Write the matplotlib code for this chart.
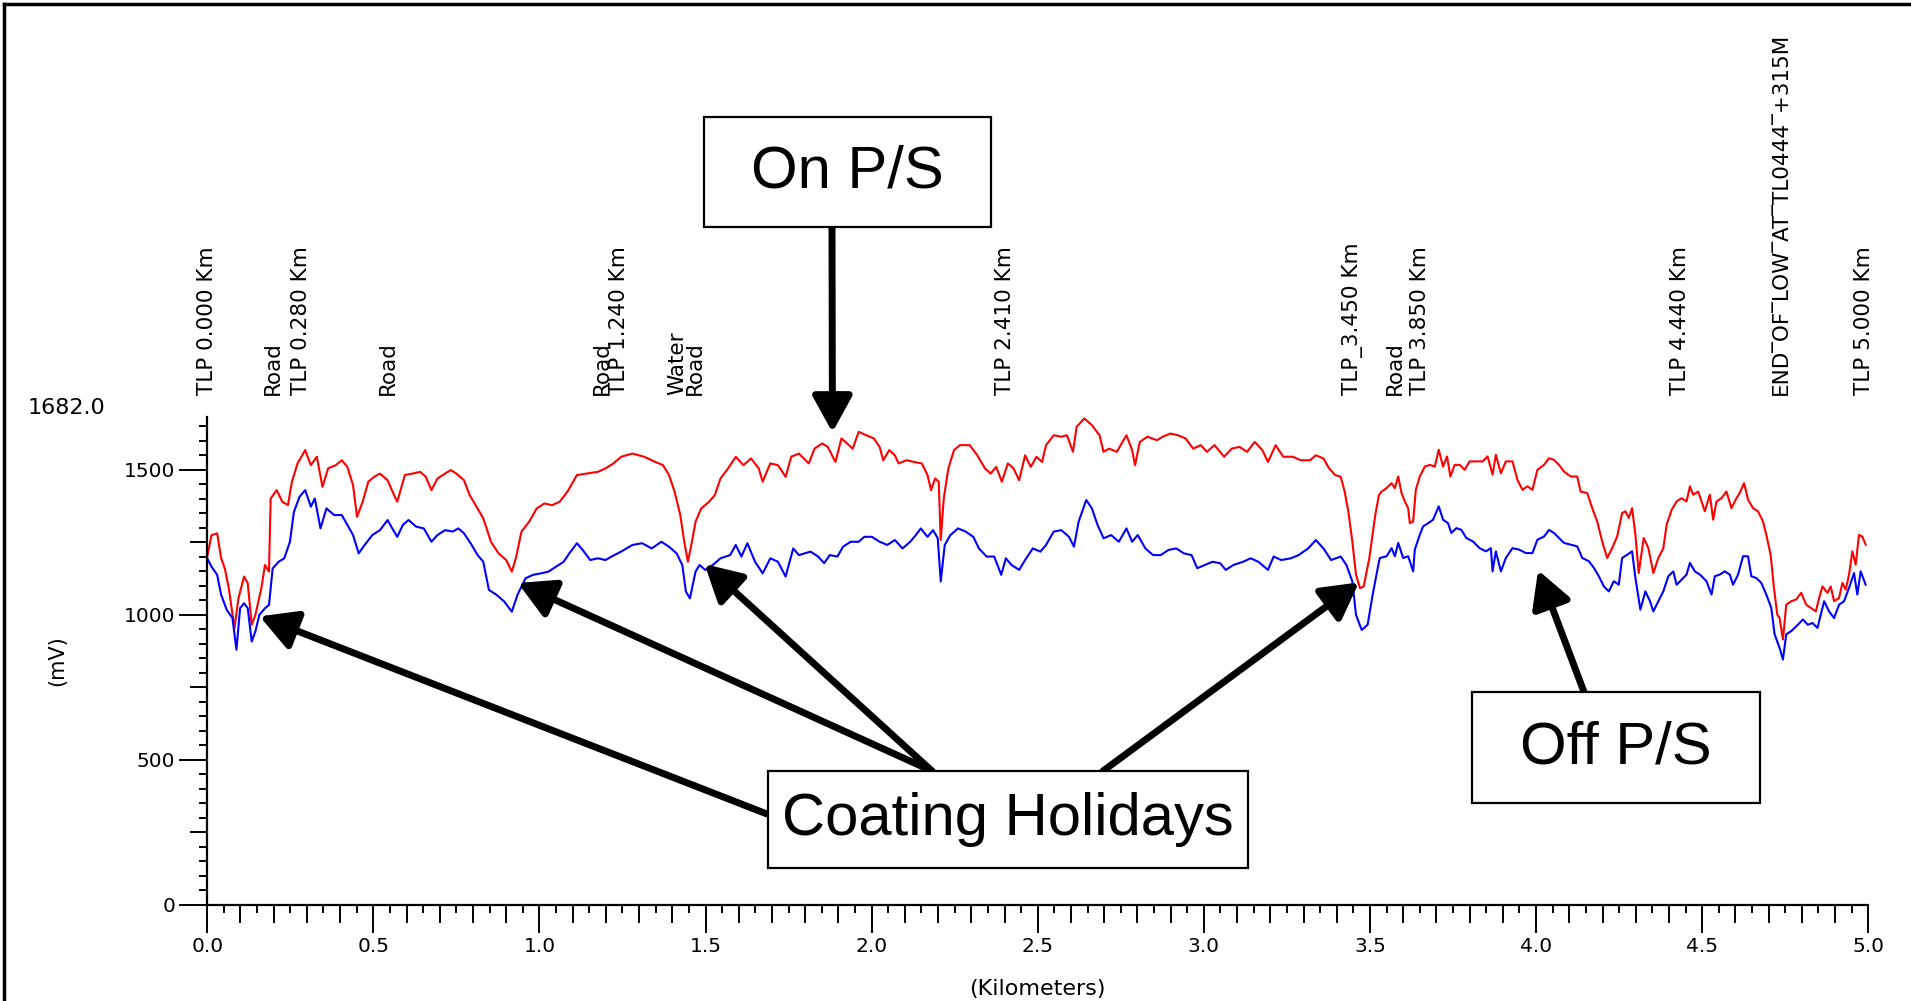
import matplotlib
matplotlib.use('Agg')
import matplotlib.pyplot as plt
import matplotlib.transforms as mtransforms
from matplotlib.patches import Rectangle
from matplotlib.lines import Line2D
from matplotlib.ticker import MultipleLocator, FuncFormatter

# On P/S potential (red): km, mV
on_km = [0.000, 0.013, 0.030, 0.042, 0.053, 0.065, 0.082, 0.094, 0.111, 0.122, 0.134, 0.145,
         0.163, 0.174, 0.186, 0.191, 0.209, 0.226, 0.243, 0.255, 0.272, 0.295, 0.312, 0.330,
         0.347, 0.364, 0.387, 0.405, 0.422, 0.439, 0.451, 0.468, 0.485, 0.503, 0.520, 0.543,
         0.560, 0.572, 0.595, 0.618, 0.641, 0.658, 0.675, 0.693, 0.716, 0.733, 0.750, 0.773,
         0.790, 0.808, 0.831, 0.854, 0.877, 0.900, 0.917, 0.929, 0.946, 0.969, 0.992, 1.015,
         1.038, 1.061, 1.084, 1.113, 1.142, 1.176, 1.199, 1.223, 1.246, 1.280, 1.315, 1.349,
         1.372, 1.390, 1.407, 1.424, 1.436, 1.447, 1.459, 1.470, 1.487, 1.511, 1.528, 1.545,
         1.568, 1.591, 1.614, 1.637, 1.660, 1.672, 1.695, 1.718, 1.741, 1.758, 1.781,
         1.811, 1.828, 1.851, 1.868, 1.891, 1.909, 1.926, 1.943, 1.961, 1.984, 2.007, 2.024,
         2.035, 2.053, 2.070, 2.081, 2.105, 2.128, 2.151, 2.168, 2.179, 2.191, 2.202, 2.208,
         2.217, 2.231, 2.248, 2.266, 2.295, 2.318, 2.341, 2.358, 2.375, 2.392, 2.410, 2.427,
         2.444, 2.462, 2.479, 2.496, 2.513, 2.525, 2.548, 2.571, 2.588, 2.606, 2.617, 2.640,
         2.663, 2.686, 2.698, 2.715, 2.738, 2.755, 2.767, 2.784, 2.793, 2.807, 2.830, 2.859,
         2.876, 2.899, 2.922, 2.945, 2.968, 2.991, 3.009, 3.032, 3.061, 3.084, 3.107, 3.130,
         3.153, 3.176, 3.193, 3.216, 3.239, 3.268, 3.291, 3.320, 3.337, 3.360, 3.377, 3.395,
         3.412, 3.424, 3.435, 3.447, 3.458, 3.470, 3.481, 3.498, 3.516, 3.527,
         3.535, 3.550, 3.565, 3.575, 3.585, 3.595, 3.605, 3.615, 3.620, 3.630, 3.638, 3.650,
         3.665, 3.680, 3.695, 3.707, 3.720, 3.732, 3.742, 3.755, 3.770, 3.785, 3.800, 3.820,
         3.839, 3.854, 3.869, 3.879, 3.894, 3.909, 3.929, 3.944, 3.959, 3.974, 3.989, 4.004,
         4.024, 4.039, 4.054, 4.069, 4.084, 4.104, 4.124, 4.134, 4.154, 4.169, 4.184, 4.199,
         4.214, 4.229, 4.244, 4.259, 4.269, 4.279, 4.289, 4.299, 4.309, 4.324, 4.338, 4.353,
         4.368, 4.383, 4.393, 4.408, 4.423, 4.438, 4.453, 4.463, 4.473, 4.488, 4.508, 4.523,
         4.533, 4.543, 4.558, 4.573, 4.588, 4.603, 4.613, 4.626, 4.638, 4.653, 4.668, 4.683,
         4.693, 4.706, 4.716, 4.726, 4.733, 4.743, 4.753, 4.768, 4.783, 4.798, 4.813, 4.827,
         4.842, 4.852, 4.862, 4.877, 4.887, 4.897, 4.912, 4.922, 4.932, 4.942, 4.952, 4.962,
         4.972, 4.982, 4.992]
on_mv = [1200, 1275, 1281, 1195, 1160, 1092, 954, 1057, 1132, 1109, 966, 1000,
         1092, 1172, 1149, 1401, 1430, 1390, 1378, 1459, 1522, 1568, 1516, 1545,
         1441, 1505, 1516, 1533, 1510, 1447, 1338, 1390, 1459, 1476, 1487, 1464,
         1419, 1390, 1482, 1487, 1493, 1476, 1430, 1470, 1487, 1499, 1487, 1464,
         1413, 1378, 1333, 1252, 1212, 1189, 1149, 1195, 1287, 1321, 1367, 1384,
         1378, 1390, 1424, 1482, 1487, 1493, 1505, 1522, 1545, 1556, 1545, 1527,
         1516, 1482, 1424, 1344, 1252, 1183, 1252, 1321, 1367, 1390, 1413, 1470,
         1505, 1545, 1516, 1539, 1505, 1459, 1522, 1516, 1476, 1545, 1556,
         1522, 1573, 1591, 1579, 1527, 1608, 1591, 1573, 1631, 1619, 1608, 1579,
         1533, 1568, 1550, 1522, 1533, 1527, 1522, 1482, 1430, 1470, 1459, 1258,
         1401, 1505, 1568, 1585, 1585, 1550, 1505, 1487, 1510, 1459, 1522, 1505,
         1464, 1550, 1510, 1545, 1527, 1585, 1619, 1614, 1619, 1562, 1648, 1677,
         1654, 1619, 1562, 1573, 1562, 1596, 1619, 1568, 1516, 1596, 1614, 1602,
         1614, 1625, 1619, 1608, 1573, 1585, 1562, 1585, 1545, 1573, 1579, 1562,
         1596, 1568, 1527, 1585, 1545, 1545, 1533, 1533, 1550, 1539, 1505, 1482,
         1476, 1424, 1355, 1252, 1138, 1092, 1098, 1195, 1344, 1413,
         1425, 1437, 1454, 1437, 1477, 1420, 1391, 1368, 1316, 1322, 1431, 1477,
         1511, 1517, 1511, 1569, 1511, 1546, 1477, 1517, 1517, 1500, 1529, 1529,
         1529, 1546, 1483, 1552, 1488, 1529, 1529, 1465, 1431, 1443, 1431, 1500,
         1517, 1540, 1534, 1517, 1494, 1477, 1477, 1425, 1420, 1368, 1322, 1253,
         1196, 1230, 1270, 1351, 1357, 1334, 1368, 1276, 1144, 1265, 1230, 1144,
         1196, 1230, 1311, 1362, 1391, 1402, 1391, 1443, 1414, 1425, 1357, 1414,
         1328, 1391, 1402, 1425, 1368, 1402, 1420, 1454, 1397, 1368, 1357, 1322,
         1276, 1207, 1093, 1001, 989, 915, 1035, 1047, 1053, 1076, 1035, 1024,
         1012, 1058, 1098, 1076, 1098, 1047, 1058, 1110, 1087, 1139, 1219, 1173,
         1276, 1270, 1242]

# Off P/S potential (blue): km, mV
off_km = [0.000, 0.013, 0.030, 0.042, 0.059, 0.076, 0.088, 0.099, 0.111, 0.122, 0.134, 0.145,
          0.157, 0.174, 0.186, 0.197, 0.215, 0.232, 0.249, 0.261, 0.278, 0.295, 0.312, 0.324,
          0.341, 0.359, 0.382, 0.405, 0.422, 0.439, 0.456, 0.474, 0.497, 0.520, 0.543, 0.554,
          0.572, 0.589, 0.606, 0.629, 0.652, 0.675, 0.693, 0.716, 0.739, 0.756, 0.773, 0.796,
          0.814, 0.831, 0.848, 0.871, 0.894, 0.917, 0.934, 0.958, 0.981, 1.004, 1.027, 1.050,
          1.073, 1.090, 1.113, 1.130, 1.153, 1.176, 1.199, 1.217, 1.246, 1.280, 1.309, 1.338,
          1.367, 1.390, 1.413, 1.430, 1.441, 1.453, 1.470, 1.482, 1.499, 1.522, 1.545, 1.574,
          1.591, 1.608, 1.626, 1.649, 1.672, 1.695, 1.718, 1.741, 1.764, 1.781,
          1.816, 1.839, 1.857, 1.874, 1.897, 1.914, 1.937, 1.961, 1.978, 2.001, 2.024, 2.047,
          2.070, 2.093, 2.116, 2.133, 2.148, 2.168, 2.185, 2.199, 2.208, 2.220, 2.237, 2.260,
          2.283, 2.306, 2.323, 2.346, 2.369, 2.390, 2.404, 2.421, 2.444, 2.462, 2.485, 2.508,
          2.525, 2.548, 2.571, 2.594, 2.609, 2.623, 2.646, 2.663, 2.680, 2.698, 2.721, 2.744,
          2.767, 2.784, 2.801, 2.824, 2.847, 2.870, 2.894, 2.917, 2.940, 2.963, 2.980, 3.003,
          3.026, 3.049, 3.066, 3.089, 3.118, 3.141, 3.164, 3.193, 3.210, 3.233, 3.262, 3.285,
          3.314, 3.337, 3.360, 3.383, 3.412, 3.429, 3.447, 3.458, 3.475, 3.493, 3.508, 3.527,
          3.530, 3.550, 3.565, 3.575, 3.585, 3.600, 3.615, 3.630, 3.635, 3.650, 3.660, 3.675,
          3.690, 3.707, 3.720, 3.735, 3.745, 3.760, 3.775, 3.790, 3.810, 3.830, 3.849, 3.864,
          3.869, 3.879, 3.894, 3.909, 3.929, 3.949, 3.969, 3.989, 4.004, 4.024, 4.039, 4.054,
          4.069, 4.084, 4.104, 4.124, 4.139, 4.159, 4.174, 4.189, 4.204, 4.219, 4.234, 4.249,
          4.259, 4.274, 4.289, 4.299, 4.314, 4.329, 4.343, 4.353, 4.368, 4.383, 4.398, 4.413,
          4.423, 4.438, 4.453, 4.463, 4.478, 4.493, 4.513, 4.528, 4.538, 4.553, 4.568, 4.583,
          4.593, 4.608, 4.623, 4.638, 4.648, 4.663, 4.678, 4.693, 4.708, 4.718, 4.733, 4.743,
          4.753, 4.768, 4.788, 4.803, 4.818, 4.832, 4.847, 4.857, 4.867, 4.882, 4.897, 4.912,
          4.927, 4.942, 4.957, 4.967, 4.977, 4.992]
off_mv = [1195, 1166, 1138, 1069, 1017, 989, 880, 1023, 1040, 1023, 908, 943,
          1000, 1023, 1034, 1160, 1183, 1195, 1252, 1355, 1407, 1430, 1373, 1401,
          1298, 1367, 1344, 1344, 1310, 1275, 1212, 1241, 1275, 1292, 1327, 1304,
          1269, 1310, 1327, 1304, 1298, 1252, 1275, 1292, 1287, 1298, 1281, 1241,
          1206, 1183, 1086, 1069, 1046, 1011, 1069, 1126, 1138, 1143, 1149, 1166,
          1183, 1212, 1247, 1224, 1189, 1195, 1189, 1201, 1218, 1241, 1247, 1229,
          1252, 1235, 1212, 1172, 1080, 1057, 1149, 1172, 1155, 1172, 1195, 1206,
          1241, 1201, 1247, 1183, 1143, 1195, 1183, 1132, 1229, 1206,
          1218, 1201, 1178, 1206, 1201, 1235, 1252, 1252, 1269, 1269, 1252, 1241,
          1258, 1229, 1252, 1275, 1298, 1269, 1292, 1264, 1115, 1241, 1275, 1298,
          1287, 1269, 1229, 1201, 1201, 1138, 1195, 1172, 1155, 1189, 1229, 1218,
          1241, 1287, 1292, 1269, 1235, 1321, 1396, 1367, 1310, 1264, 1275, 1252,
          1298, 1252, 1275, 1229, 1206, 1206, 1224, 1229, 1212, 1206, 1161, 1172,
          1183, 1178, 1155, 1172, 1183, 1195, 1183, 1155, 1201, 1189, 1195, 1206,
          1229, 1258, 1229, 1189, 1201, 1172, 1115, 1000, 948, 966, 1069, 1183,
          1196, 1202, 1230, 1202, 1248, 1196, 1202, 1150, 1225, 1276, 1305, 1316,
          1328, 1374, 1328, 1316, 1282, 1299, 1293, 1265, 1253, 1230, 1219, 1230,
          1150, 1219, 1150, 1196, 1230, 1225, 1213, 1213, 1259, 1270, 1293, 1282,
          1265, 1248, 1242, 1236, 1196, 1185, 1162, 1133, 1098, 1081, 1116, 1104,
          1196, 1207, 1219, 1127, 1018, 1081, 1047, 1012, 1047, 1081, 1133, 1150,
          1104, 1121, 1139, 1179, 1150, 1139, 1116, 1070, 1133, 1139, 1150, 1139,
          1104, 1139, 1202, 1202, 1133, 1127, 1110, 1070, 1024, 933, 886, 846,
          933, 944, 966, 984, 966, 972, 955, 1001, 1047, 1012, 989, 1035,
          1047, 1093, 1144, 1070, 1150, 1104]

# survey markers along the top of the plot
marker_km = [0.000, 0.198, 0.283, 0.545, 1.188, 1.240, 1.415, 1.468, 2.400,
             3.446, 3.575, 3.650, 4.434, 4.738, 4.988]
marker_text = ['TLP 0.000 Km', 'Road', 'TLP 0.280 Km', 'Road', 'Road', 'TLP 1.240 Km',
               'Water', 'Road', 'TLP 2.410 Km', 'TLP_3.450 Km', 'Road', 'TLP 3.850 Km',
               'TLP 4.440 Km', 'END\u203eOF\u203eLOW\u203eAT\u203eTL0444\u203e+315M',
               'TLP 5.000 Km']

y_max = 1682.0

# callout boxes (figure pixels from the top-left) and the points they flag
callouts = [
    ('On P/S', (704, 117, 991, 227), [((832, 227), (1.882, 1629))]),
    ('Coating Holidays', (768, 771, 1248, 868), [((767, 814), (0.158, 995)),
                                                 ((932, 771), (0.935, 1110)),
                                                 ((932, 771), (1.497, 1175)),
                                                 ((1103, 771), (3.467, 1112))]),
    ('Off P/S', (1472, 692, 1760, 803), [((1584, 692), (4.006, 1154))]),
]

W, H = 1911, 1001
fig = plt.figure(figsize=(W / 100, H / 100), dpi=100)
ax = fig.add_axes([207.2 / W, (H - 905) / H, (1868.3 - 207.2) / W, (905 - 417) / H])

ax.plot(on_km, on_mv, color='#ff0000', lw=1.5)
ax.plot(off_km, off_mv, color='#0000ff', lw=1.5)

ax.set_xlim(0, 5)
ax.set_ylim(0, y_max)
for s in ['top', 'right']:
    ax.spines[s].set_visible(False)
for s in ['left', 'bottom']:
    ax.spines[s].set_linewidth(1.6)

ax.xaxis.set_major_locator(MultipleLocator(0.1))
ax.xaxis.set_minor_locator(MultipleLocator(0.05))
ax.yaxis.set_major_locator(MultipleLocator(250))
ax.yaxis.set_minor_locator(MultipleLocator(50))
ax.xaxis.set_major_formatter(FuncFormatter(
    lambda v, p: '%.1f' % v if round(v * 10) % 5 == 0 else ''))
ax.yaxis.set_major_formatter(FuncFormatter(
    lambda v, p: '%d' % v if round(v) % 500 == 0 else ''))
ax.tick_params(which='major', direction='out', length=20, width=1.4, pad=3,
               labelsize=14.5)
ax.tick_params(which='minor', direction='out', length=6, width=1.4)

# medium ticks: the in-between majors get a shorter mark
for tick, loc in zip(ax.xaxis.get_major_ticks(), ax.xaxis.get_majorticklocs()):
    if round(loc * 10) % 5 != 0:
        tick.tick1line.set_markersize(13)
for tick, loc in zip(ax.yaxis.get_major_ticks(), ax.yaxis.get_majorticklocs()):
    if round(loc) % 500 != 0:
        tick.tick1line.set_markersize(12)

fig.text(1037 / W, 1 - 989 / H, '(Kilometers)', fontsize=16, ha='center', va='center')
fig.text(57 / W, 1 - 661 / H, '(mV)', rotation=90, fontsize=15,
         ha='center', va='center')
fig.text(28 / W, 1 - 408 / H, '%.1f' % y_max, fontsize=16, ha='left', va='center')

trans = mtransforms.blended_transform_factory(ax.transData, ax.transAxes)
for km, txt in zip(marker_km, marker_text):
    ax.text(km, 1.045, txt, transform=trans, rotation=90, ha='center', va='bottom',
            fontsize=15.5, clip_on=False)

for label, (x0, y0, x1, y1), arrows in callouts:
    fig.add_artist(Rectangle((x0 / W, 1 - y1 / H), (x1 - x0) / W, (y1 - y0) / H,
                             transform=fig.transFigure, facecolor='white',
                             edgecolor='black', lw=1.6, zorder=5))
    fig.text((x0 + x1) / 2 / W, 1 - (y0 + y1) / 2 / H, label,
             family='Liberation Sans', fontsize=43, ha='center', va='center',
             zorder=6)
    for (sx, sy), (km, mv) in arrows:
        ax.annotate('', xy=(km, mv), xycoords='data',
                    xytext=(sx, H - sy), textcoords='figure pixels',
                    arrowprops=dict(arrowstyle='-|>,head_length=1.0,head_width=0.55',
                                    mutation_scale=22, lw=5, color='black',
                                    shrinkA=0, shrinkB=0),
                    annotation_clip=False, zorder=4)

# slide frame on the left and top
fig.add_artist(Line2D([4 / W, 4 / W], [0, 1 - 4 / H], transform=fig.transFigure,
                      color='black', lw=2.5))
fig.add_artist(Line2D([4 / W, 1], [1 - 4 / H, 1 - 4 / H], transform=fig.transFigure,
                      color='black', lw=2.5))

fig.savefig('out.png', dpi=100, facecolor='white')
